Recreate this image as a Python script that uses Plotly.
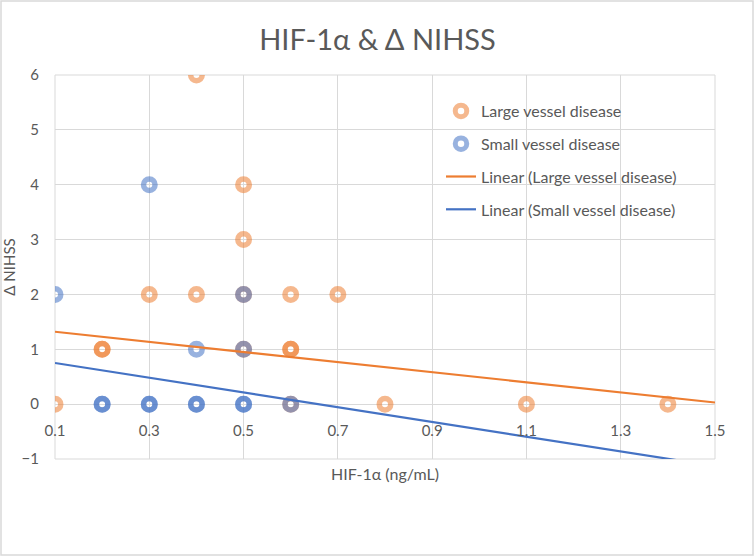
import plotly.graph_objects as go

# Data
large_x = [0.4, 0.5, 0.5, 0.3, 0.4, 0.5, 0.6, 0.7, 0.2, 0.2, 0.5, 0.6, 0.6, 0.1, 0.6, 0.8, 1.1, 1.4]
large_y = [6, 4, 3, 2, 2, 2, 2, 2, 1, 1, 1, 1, 1, 0, 0, 0, 0, 0]
small_x = [0.1, 0.3, 0.4, 0.5, 0.5, 0.2, 0.2, 0.3, 0.3, 0.4, 0.4, 0.5, 0.5, 0.6]
small_y = [2, 4, 1, 2, 1, 0, 0, 0, 0, 0, 0, 0, 0, 0]
trend_x = [0.1, 1.5]
trend_large_y = [1.32, 0.03]
trend_small_y = [0.75, -1.13]
x_ticks = [0.1, 0.3, 0.5, 0.7, 0.9, 1.1, 1.3, 1.5]
y_ticks = [-1, 0, 1, 2, 3, 4, 5, 6]

FONT = "Lato, 'Noto Sans', sans-serif"
GRAY = "#595959"

fig = go.Figure()
fig.add_trace(go.Scatter(
    x=large_x, y=large_y, mode="markers", name="Large vessel disease", legendgroup="a",
    marker=dict(symbol="circle-open", size=11.5, color="#ED7D31", opacity=0.55,
                line=dict(width=5.5, color="#ED7D31")),
))
fig.add_trace(go.Scatter(
    x=small_x, y=small_y, mode="markers", name="Small vessel disease", legendgroup="b",
    marker=dict(symbol="circle-open", size=11.5, color="#4472C4", opacity=0.55,
                line=dict(width=5.5, color="#4472C4")),
))
fig.add_trace(go.Scatter(
    x=trend_x, y=trend_large_y, mode="lines", name="Linear (Large vessel disease)",
    legendgroup="c", line=dict(color="#ED7D31", width=2.2),
))
fig.add_trace(go.Scatter(
    x=trend_x, y=trend_small_y, mode="lines", name="Linear (Small vessel disease)",
    legendgroup="d", line=dict(color="#4472C4", width=2.2),
))

L, R, T, B = 55, 40, 75, 98
W, H = 755, 557
pw, ph = W - L - R, H - T - B

fig.update_layout(
    width=W, height=H,
    margin=dict(l=L, r=R, t=T, b=B, autoexpand=False),
    paper_bgcolor="white", plot_bgcolor="white",
    font=dict(family=FONT, color=GRAY, size=15),
    title=dict(text="HIF-1α & Δ NIHSS", x=0.5, xanchor="center", y=1 - 40 / H,
               yanchor="middle", font=dict(size=29, color=GRAY, family=FONT)),
    showlegend=True,
    legend=dict(x=(441 - L) / pw, y=1 - (94 - T) / ph, xanchor="left", yanchor="top",
                bgcolor="rgba(0,0,0,0)", font=dict(size=16, color=GRAY),
                tracegroupgap=9, itemwidth=30),
    xaxis=dict(range=[0.1, 1.5], tickvals=x_ticks, ticktext=[f"{v:.1f}" for v in x_ticks],
               showgrid=True, gridcolor="#D9D9D9", gridwidth=1, zeroline=False,
               showline=False, anchor="free", position=1 / 7, ticks="",
               ticklabelstandoff=16, automargin=False,
               tickfont=dict(size=15, color=GRAY),
               title=dict(text="HIF-1α (ng/mL)", standoff=30, font=dict(size=16, color=GRAY))),
    yaxis=dict(range=[-1, 6], tickvals=y_ticks, showgrid=True, gridcolor="#D9D9D9",
               gridwidth=1, zeroline=False, showline=False, ticks="",
               ticklabelstandoff=15, automargin=False,
               tickfont=dict(size=15, color=GRAY),
               title=dict(text="Δ NIHSS", standoff=6, font=dict(size=15, color=GRAY))),
    shapes=[
        dict(type="rect", xref="paper", yref="paper",
             x0=0, x1=1, y0=0, y1=1, line=dict(color="#D9D9D9", width=1), layer="below"),
        dict(type="rect", xref="paper", yref="paper",
             x0=(1 - L) / pw, x1=(753 - L) / pw, y0=1 - (555 - T) / ph, y1=1 - (1 - T) / ph,
             line=dict(color="#D9D9D9", width=1.5)),
    ],
)

fig.write_html("out.html", config={"displayModeBar": False},
               post_script="document.body.style.margin='0';")
